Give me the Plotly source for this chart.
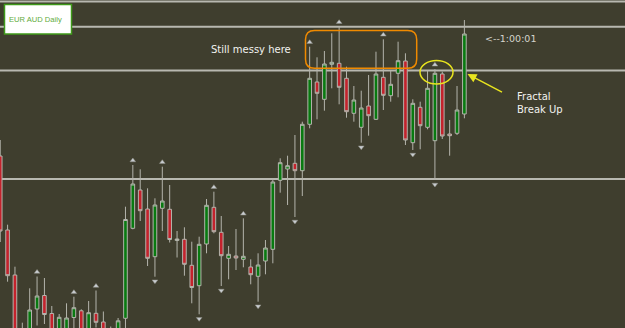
import plotly.graph_objects as go

# ---- data (price units, arbitrary scale) ----
opens = [172, 98, 53, -7, -12, 19, 32.5, 14.5, -10, -8, 10.5, 17.2, -6, 14.7, 6, -17, -12,
         9.7, 99.7, 138, 119, 71.3, 119.7, 118.7, 87.5, 88.7, 62.7, 42.3, 84, 120.7, 95.7,
         69.7, 72, 68.7, 61, 51.7, 67, 78.7, 147.7, 159, 164.7, 157.3, 203.7, 246, 228.7,
         263.7, 264.7, 249.7, 214.7, 200.7, 222, 208.7, 250.7, 232.3, 254.7, 267, 185.3,
         220.7, 200.7, 187.3, 254, 194, 194.7, 214]
highs = [188, 103.3, 61.3, 5.3, 39.7, 51.5, 50, 22, 14, 24.7, 31.3, 18.7, 27, 37.5, 16.5, 1.5, 10,
         121.3, 163, 158.7, 139.7, 129.7, 161.3, 143, 97, 100.7, 86.3, 91.3, 129, 136.3, 112,
         82, 99, 109.7, 68.7, 74.7, 88, 149.7, 169.7, 172.3, 193, 206.3, 281.3, 270.7, 277,
         294.7, 301.3, 261.3, 242, 237.3, 253, 276.3, 288.7, 257, 286.3, 274.7, 228.7,
         226.3, 257.3, 258.7, 256.3, 208, 242, 308]
lows = [86, 46.3, -24, -28, -18, 2.5, 4, -12, -17, -14, -4, -10, -12, 0.5, -16, -22, -18,
        0, 98.7, 107, 62, 51.3, 97, 85.5, 70.5, 52.3, 24.7, 13.7, 74.7, 94.7, 42,
        48.7, 58, 60.7, 43.7, 26.3, 53.7, 64.7, 135.3, 123, 111, 132, 199.7, 208.7, 217.3,
        239.7, 223.7, 210.3, 206.3, 185.3, 192.3, 208, 218, 226.3, 230.7, 183, 178,
        178.7, 198.7, 148, 189, 172.3, 193, 209.7]
closes = [97, 52.3, -17, -22, 18, 32, 13.5, -7, 10.7, 10, 20.3, -5, 15.3, 5.7, -10, -2, 7.2,
          108.5, 144, 117.3, 69.7, 123, 127, 88.5, 89, 63.7, 40.5, 83.7, 122.7, 96.3, 72.3,
          73.7, 70, 71.7, 53.3, 63, 80, 146, 165.3, 162.3, 157.3, 203.7, 249.7, 234.7, 264,
          265.7, 240.7, 216.3, 228, 220, 212.3, 254, 232.7, 243.7, 267.3, 188, 224.7,
          202.3, 239.7, 254.7, 192, 192.3, 218, 294]
days = list(range(len(opens)))

fractal_up_idx = [5, 10, 13, 18, 22, 29, 33, 42, 46, 52, 59]
fractal_down_idx = [21, 27, 30, 35, 40, 49, 56, 59]

level_lines = [326.5, 301.3, 257.5, 149]

title_text = "EUR AUD Daily"
note_text = "Still messy here"
timer_text = "<--1:00:01"
arrow_text = "Fractal<br>Break Up"

BG = "#3f3e2e"
W, H = 625, 328
def fx(px):
    return px / W
def fy(py):
    return 1 - py / H

fig = go.Figure()
fig.add_trace(go.Candlestick(
    x=days, open=opens, high=highs, low=lows, close=closes,
    increasing=dict(line=dict(color="#b4b4ac", width=1), fillcolor="#087a10"),
    decreasing=dict(line=dict(color="#b4b4ac", width=1), fillcolor="#c4222c"),
    whiskerwidth=0, showlegend=False, hoverinfo="skip"))

fig.add_trace(go.Scatter(
    x=fractal_up_idx, y=[highs[i] + 4.5 for i in fractal_up_idx], mode="markers",
    marker=dict(symbol="triangle-up", size=5, color="#c8ccd0",
                line=dict(width=0.5, color="#8a8a80")),
    showlegend=False, hoverinfo="skip"))
fig.add_trace(go.Scatter(
    x=fractal_down_idx, y=[lows[i] - 4.5 for i in fractal_down_idx], mode="markers",
    marker=dict(symbol="triangle-down", size=5, color="#c8ccd0",
                line=dict(width=0.5, color="#8a8a80")),
    showlegend=False, hoverinfo="skip"))

shapes = []
for lv in level_lines:
    shapes.append(dict(type="line", xref="paper", x0=0, x1=1, yref="y", y0=lv, y1=lv,
                       line=dict(color="#b8b8b0", width=2), layer="below"))

# orange rounded box
x0, x1 = fx(305.5), fx(416.7)
yt, yb = fy(30.5), fy(68.3)
rx, ry = 9 / W, 9 / H
path = (f"M {x0+rx},{yt} L {x1-rx},{yt} Q {x1},{yt} {x1},{yt-ry} L {x1},{yb+ry} "
        f"Q {x1},{yb} {x1-rx},{yb} L {x0+rx},{yb} Q {x0},{yb} {x0},{yb+ry} "
        f"L {x0},{yt-ry} Q {x0},{yt} {x0+rx},{yt} Z")
shapes.append(dict(type="path", xref="paper", yref="paper", path=path,
                   line=dict(color="#f08a00", width=1.5)))
# yellow ellipse
shapes.append(dict(type="circle", xref="paper", yref="paper",
                   x0=fx(420), x1=fx(453), y0=fy(84), y1=fy(60.5),
                   line=dict(color="#e8e41e", width=1.5)))
# title box
shapes.append(dict(type="rect", xref="paper", yref="paper",
                   x0=fx(4.5), x1=fx(71.5), y0=fy(34), y1=fy(4.5),
                   fillcolor="white", line=dict(color="#3f9a1a", width=1.5)))

annotations = [
    dict(text=title_text, xref="paper", yref="paper", x=fx(7), y=fy(19.5),
         xanchor="left", yanchor="middle", showarrow=False,
         font=dict(family="Liberation Sans, Arial", size=7.6, color="#62ac3c")),
    dict(text=note_text, xref="paper", yref="paper", x=fx(209), y=fy(49.5),
         xanchor="left", yanchor="middle", showarrow=False,
         font=dict(family="DejaVu Sans", size=10, color="#f2f2ee")),
    dict(text=timer_text, xref="paper", yref="paper", x=fx(483), y=fy(38.5),
         xanchor="left", yanchor="middle", showarrow=False,
         font=dict(family="DejaVu Sans", size=9.5, color="#d4d4cc")),
    dict(text=arrow_text, xref="paper", yref="paper", x=fx(515), y=fy(103),
         xanchor="left", yanchor="middle", align="left", showarrow=False,
         font=dict(family="DejaVu Sans", size=10, color="#f2f2ee")),
    dict(text="", xref="paper", yref="paper", x=fx(467.5), y=fy(74),
         ax=36, ay=19, showarrow=True, arrowhead=2, arrowsize=1.2, arrowwidth=1.5,
         arrowcolor="#e8e41e"),
]

fig.update_layout(
    width=W, height=H, autosize=False,
    margin=dict(l=0, r=0, t=0, b=0),
    paper_bgcolor=BG, plot_bgcolor=BG,
    shapes=shapes, annotations=annotations,
    xaxis=dict(range=[-0.03, 84.8], visible=False, rangeslider=dict(visible=False),
               showgrid=False, zeroline=False),
    yaxis=dict(range=[0, 328], visible=False, showgrid=False, zeroline=False),
    boxgap=0.3,
)

fig.write_html("out.html")
